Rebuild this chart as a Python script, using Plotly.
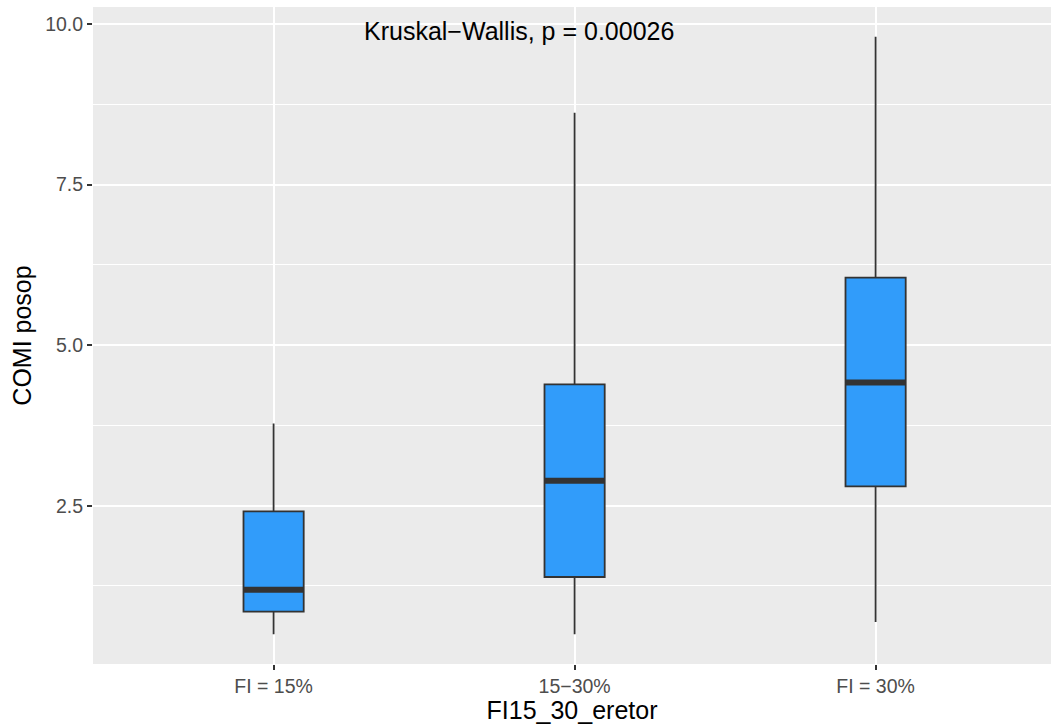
import plotly.graph_objects as go

# ---- data ----
categories = ["FI = 15%", "15\u221230%", "FI = 30%"]
positions = [1, 2, 3]
lower_whisker = [0.50, 0.50, 0.69]
q1_values = [0.85, 1.39, 2.80]
medians = [1.19, 2.89, 4.42]
q3_values = [2.41, 4.39, 6.05]
upper_whisker = [3.78, 8.62, 9.80]
y_tick_vals = [2.5, 5.0, 7.5, 10.0]
y_minor_vals = [1.25, 3.75, 6.25, 8.75]
test_label = "Kruskal\u2212Wallis, p = 0.00026"

BOX_W = 0.2
FILL = "#319CFA"
DARK = "#333333"
FONT = "Liberation Sans, Arial, sans-serif"

fig = go.Figure()
fig.add_trace(go.Box(
    x=positions, q1=q1_values, median=medians, q3=q3_values,
    lowerfence=lower_whisker, upperfence=upper_whisker,
    width=BOX_W, fillcolor=FILL, line=dict(color=DARK, width=1.8),
    whiskerwidth=0, boxpoints=False, showlegend=False, hoverinfo="skip",
))

# thick median bars, as ggplot draws them
mx, my = [], []
for p, m in zip(positions, medians):
    mx += [p - BOX_W / 2, p + BOX_W / 2, None]
    my += [m, m, None]
fig.add_trace(go.Scatter(x=mx, y=my, mode="lines",
                         line=dict(color=DARK, width=6),
                         showlegend=False, hoverinfo="skip"))

fig.add_annotation(x=1.815, y=9.89, xref="x", yref="y", text=test_label,
                   showarrow=False, xanchor="center", yanchor="middle",
                   font=dict(family=FONT, size=25, color="black"))

W, H = 1051, 724
ML, MT, MB, MR = 93, 7, 60, 0
px_per_unit = 301.0
x_hi = 0.4 + (W - ML - MR) / px_per_unit

fig.update_layout(
    width=W, height=H,
    margin=dict(l=ML, r=MR, t=MT, b=MB, autoexpand=False),
    paper_bgcolor="white", plot_bgcolor="#EBEBEB",
    font=dict(family=FONT),
)
fig.update_xaxes(
    range=[0.4, x_hi], tickvals=positions, ticktext=categories,
    showgrid=True, gridcolor="white", gridwidth=2, zeroline=False,
    ticks="outside", ticklen=5, tickwidth=1.5, tickcolor=DARK,
    tickfont=dict(size=19.5, color="#4D4D4D", family=FONT),
    title=dict(text="FI15_30_eretor", font=dict(size=25, color="black", family=FONT), standoff=2),
)
fig.update_yaxes(
    range=[0.035, 10.265], tickvals=y_tick_vals, tickformat=".1f",
    showgrid=True, gridcolor="white", gridwidth=2, zeroline=False,
    ticks="outside", ticklen=5, tickwidth=1.5, tickcolor=DARK,
    tickfont=dict(size=19.5, color="#4D4D4D", family=FONT),
    minor=dict(tickvals=y_minor_vals, showgrid=True, gridcolor="white", gridwidth=1, ticks=""),
    title=dict(text="COMI posop", font=dict(size=25, color="black", family=FONT), standoff=6),
)

fig.write_html("out.html", config={"displayModeBar": False},
               post_script="document.body.style.margin='0';")
